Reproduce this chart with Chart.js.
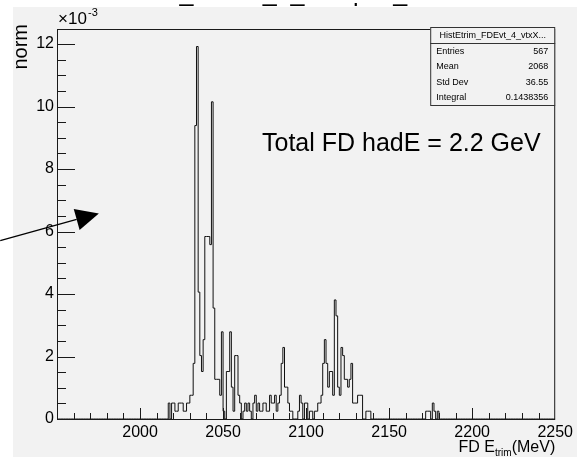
<!DOCTYPE html>
<html>
<head>
<meta charset="utf-8">
<script src="https://cdn.jsdelivr.net/npm/chart.js@4.4.0/dist/chart.umd.min.js"></script>
<style>
  html, body { margin: 0; padding: 0; background: #fff; }
</style>
</head>
<body>
<canvas id="histo" width="577" height="457"></canvas>
<script>
// binning (MeV) and y range (norm, in units of 1e-3)
var xMin = 1950, xMax = 2250, binWidth = 1;
var yMax = 12.48;

// bin contents (x10^-3), one value per 1 MeV bin from the given start edge
var sideStart = 2017;
var sideBins = [0.51, 0, 0.51, 0.51, 0.25, 0.25, 0.51, 0.51, 0.51, 0.25, 0.25, 0.51, 0.51, 0.76, 0.76, 1.78];

var peakStart = 2033;
var peakBins = [9.39, 11.92, 4.06, 2.03, 1.52, 2.54, 5.84, 5.84, 5.84, 5.58, 10.15, 3.55, 1.27, 1.27, 1.27, 0.76,
                2.79, 0.25, 0, 1.52, 1.52, 2.79, 1.02, 0.25, 2.03, 2.03, 0.76, 0.51, 0, 0.25, 0.51, 0.25,
                0.51, 0.25, 0, 0.51, 0.76, 0.25, 0.51];

var midStart = 2072;
var midBins = [0.25, 0.25, 0.51, 0.51, 0.25, 0.25, 0.76, 0.51, 0.51, 0.76, 0.25, 0.51, 0.76, 1.78, 2.29, 1.02,
               1.02, 0.51, 0.25, 0.25, 0, 0, 0, 0.25, 0.76, 0.51, 0, 0.51, 0.51, 0, 0.25, 0.25,
               0, 0.25, 0.25, 0.51, 0.51];

var bumpStart = 2109;
var bumpBins = [0.76, 1.78, 2.54, 1.78, 1.02, 1.52, 1.52, 0.76, 3.81, 3.30, 1.02, 0.76, 2.29, 2.03, 1.27, 1.27,
                1.02, 1.27, 1.78, 0.51, 0.51, 0.51, 0.76, 0.76, 0.76, 0, 0, 0.25, 0.25, 0.25];

var tailStart = 2172;
var tailBins = [0.25, 0.25, 0.25, 0, 0.51, 0.25, 0, 0.25];

// axis labels
var xTickLabels = [2000, 2050, 2100, 2150, 2200, 2250];
var yTickLabels = [0, 2, 4, 6, 8, 10, 12];

// stats box
var histName = 'HistEtrim_FDEvt_4_vtxX...';
var histTitle = 'HistEtrim_FDEvt_4_vtxXpos_all';
var statNames = ['Entries', 'Mean', 'Std Dev', 'Integral'];
var statValues = ['567', '2068', '36.55', '0.1438356'];

// note + arrow (arrow ends in axis units)
var noteText = 'Total FD hadE = 2.2 GeV';
var arrowFrom = [1915.8, 5.71];
var arrowTo = [1975.2, 6.58];

var FONT = '"Liberation Sans", Arial, Helvetica, sans-serif';
var padColor = '#f2f2f2';

// build the stepped outline: one point per bin low edge, plus the last upper edge
function buildPoints() {
  var contents = {};
  [[sideStart, sideBins], [peakStart, peakBins], [midStart, midBins],
   [bumpStart, bumpBins], [tailStart, tailBins]].forEach(function (seg) {
    seg[1].forEach(function (v, i) { contents[seg[0] + i * binWidth] = v; });
  });
  var pts = [];
  for (var e = xMin; e < xMax; e += binWidth) {
    pts.push({ x: e, y: contents[e] || 0 });
  }
  pts.push({ x: xMax, y: 0 });
  return pts;
}

function line(ctx, x1, y1, x2, y2) {
  ctx.beginPath();
  ctx.moveTo(x1, y1);
  ctx.lineTo(x2, y2);
  ctx.stroke();
}

var rootStyle = {
  id: 'rootStyle',
  beforeDraw: function (chart) {
    var ctx = chart.ctx;
    ctx.save();
    ctx.fillStyle = '#ffffff';
    ctx.fillRect(0, 0, chart.width, chart.height);
    ctx.fillStyle = padColor;
    ctx.fillRect(13, 7, chart.width - 13, chart.height - 7);

    // title, mostly above the visible area
    ctx.beginPath();
    ctx.rect(0, 3, chart.width, 4);
    ctx.clip();
    ctx.fillStyle = '#000';
    ctx.font = '25px ' + FONT;
    ctx.textBaseline = 'alphabetic';
    ctx.fillText(histTitle, 78, 1);
    ctx.restore();
  },
  afterDatasetsDraw: function (chart) {
    var ctx = chart.ctx, a = chart.chartArea;
    var xs = chart.scales.x, ys = chart.scales.y;
    ctx.save();
    ctx.strokeStyle = '#1a1a1a';
    ctx.lineWidth = 1;
    ctx.strokeRect(a.left + 0.5, a.top + 0.5, a.right - a.left - 1, a.bottom - a.top);

    // x ticks, inward
    for (var v = xMin + 10; v < xMax; v += 10) {
      var px = Math.round(xs.getPixelForValue(v)) + 0.5;
      var len = (v % 50 === 0) ? 11 : 6;
      line(ctx, px, a.bottom, px, a.bottom - len);
    }
    // y ticks, inward
    for (var w = 0.5; w < yMax; w += 0.5) {
      var py = Math.round(ys.getPixelForValue(w)) + 0.5;
      var l2 = (w % 2 === 0) ? 18 : 9;
      line(ctx, a.left, py, a.left + l2, py);
    }
    ctx.restore();
  },
  afterDraw: function (chart) {
    var ctx = chart.ctx, a = chart.chartArea;
    var xs = chart.scales.x, ys = chart.scales.y;
    ctx.save();
    ctx.fillStyle = '#000';
    ctx.textBaseline = 'alphabetic';

    // exponent above the y axis
    ctx.font = '17px ' + FONT;
    ctx.textAlign = 'left';
    ctx.fillText('\u00d710', a.left + 1, 24);
    ctx.font = '11px ' + FONT;
    ctx.fillText('-3', a.left + 31, 16);

    // y title, right aligned to the top of the axis
    ctx.save();
    ctx.translate(27, 24);
    ctx.rotate(-Math.PI / 2);
    ctx.font = '20px ' + FONT;
    ctx.textAlign = 'right';
    ctx.fillText('norm', 0, 0);
    ctx.restore();

    // x title with subscript, right aligned to the axis end
    ctx.font = '10px ' + FONT;
    var wSub = ctx.measureText('trim').width;
    ctx.font = '16px ' + FONT;
    var wTail = ctx.measureText('(MeV)').width;
    var wHead = ctx.measureText('FD E').width;
    var xEnd = a.right;
    ctx.textAlign = 'left';
    ctx.fillText('(MeV)', xEnd - wTail, 452);
    ctx.fillText('FD E', xEnd - wTail - wSub - wHead, 452);
    ctx.font = '10px ' + FONT;
    ctx.fillText('trim', xEnd - wTail - wSub, 456);

    // annotation
    ctx.font = '25px ' + FONT;
    ctx.fillText(noteText, 262, 151);

    // arrow
    var x0 = xs.getPixelForValue(arrowFrom[0]), y0 = ys.getPixelForValue(arrowFrom[1]);
    var x1 = xs.getPixelForValue(arrowTo[0]), y1 = ys.getPixelForValue(arrowTo[1]);
    var ang = Math.atan2(y1 - y0, x1 - x0);
    var headLen = 23, headHalf = 11;
    var bx = x1 - headLen * Math.cos(ang), by = y1 - headLen * Math.sin(ang);
    ctx.strokeStyle = '#000';
    ctx.lineWidth = 1.3;
    line(ctx, x0, y0, bx, by);
    ctx.beginPath();
    ctx.moveTo(x1, y1);
    ctx.lineTo(bx + headHalf * Math.sin(ang), by - headHalf * Math.cos(ang));
    ctx.lineTo(bx - headHalf * Math.sin(ang), by + headHalf * Math.cos(ang));
    ctx.closePath();
    ctx.fill();

    // stats box
    var bw = 125, bh = 78;
    var bxl = a.right - bw, byt = a.top - 2;
    ctx.fillStyle = padColor;
    ctx.fillRect(bxl, byt, bw, bh);
    ctx.strokeStyle = '#333';
    ctx.lineWidth = 1;
    ctx.strokeRect(bxl + 0.5, byt + 0.5, bw - 1, bh);
    line(ctx, bxl, byt + 16.5, bxl + bw, byt + 16.5);
    ctx.fillStyle = '#000';
    ctx.font = '9px ' + FONT;
    ctx.textBaseline = 'middle';
    ctx.textAlign = 'center';
    ctx.fillText(histName, bxl + bw / 2, byt + 8.5);
    for (var i = 0; i < statNames.length; i++) {
      var ry = byt + 24.5 + i * 15.5;
      ctx.textAlign = 'left';
      ctx.fillText(statNames[i], bxl + 6, ry);
      ctx.textAlign = 'right';
      ctx.fillText(statValues[i], bxl + bw - 7, ry);
    }
    ctx.restore();
  }
};

Chart.defaults.font.family = FONT;

new Chart(document.getElementById('histo'), {
  type: 'line',
  data: {
    datasets: [{
      data: buildPoints(),
      stepped: true,
      borderColor: '#111',
      borderWidth: 1,
      pointRadius: 0,
      fill: false
    }]
  },
  options: {
    responsive: false,
    animation: false,
    layout: { padding: { left: 0, top: 29, right: 20, bottom: 0 } },
    plugins: {
      legend: { display: false },
      tooltip: { enabled: false },
      title: { display: false }
    },
    scales: {
      x: {
        type: 'linear',
        min: xMin,
        max: xMax,
        grid: { display: false, drawTicks: false },
        border: { display: false },
        ticks: {
          stepSize: 50,
          autoSkip: false,
          maxRotation: 0,
          padding: 4,
          color: '#000',
          font: { size: 16 },
          callback: function (v) { return xTickLabels.indexOf(v) >= 0 ? String(v) : ''; }
        },
        afterFit: function (s) { s.height = 38; }
      },
      y: {
        type: 'linear',
        min: 0,
        max: yMax,
        grid: { display: false, drawTicks: false },
        border: { display: false },
        ticks: {
          stepSize: 2,
          includeBounds: false,
          padding: 3,
          color: '#000',
          font: { size: 16 },
          callback: function (v) { return yTickLabels.indexOf(v) >= 0 ? String(v) : ''; }
        },
        afterFit: function (s) { s.width = 57; }
      }
    }
  },
  plugins: [rootStyle]
});
</script>
</body>
</html>
